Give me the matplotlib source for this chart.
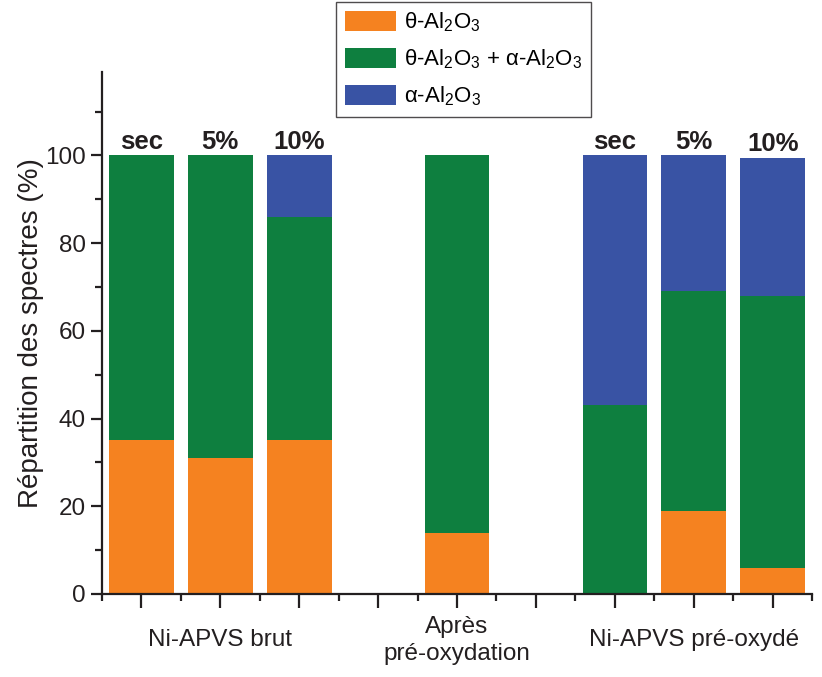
import numpy as np
import matplotlib.pyplot as plt
from matplotlib.ticker import MultipleLocator

plt.rcParams['font.family'] = ['Liberation Sans', 'DejaVu Sans']
plt.rcParams['mathtext.fontset'] = 'custom'
plt.rcParams['mathtext.rm'] = 'Liberation Sans'
plt.rcParams['mathtext.it'] = 'Liberation Sans'

# bar positions (gaps at 4 and 6)
positions = [1, 2, 3, 5, 7, 8, 9]
top_labels = ['sec', '5%', '10%', '', 'sec', '5%', '10%']
theta = [35, 31, 35, 14, 0, 19, 6]
theta_alpha = [65, 69, 51, 86, 43, 50, 62]
alpha = [0, 0, 14, 0, 57, 31, 31.5]
group_pos = [2, 5, 8]
group_labels = ['Ni-APVS brut', 'Après\npré-oxydation', 'Ni-APVS pré-oxydé']

c_theta = '#F58220'
c_mix = '#0E7F3F'
c_alpha = '#3953A4'
dark = '#231f20'

fig = plt.figure(figsize=(8.22, 6.77), dpi=100)
ax = fig.add_axes([0.124, 0.1226, 0.864, 0.771])

theta = np.array(theta)
theta_alpha = np.array(theta_alpha)
alpha = np.array(alpha)
w = 0.82
ax.bar(positions, theta, w, color=c_theta, label=r'θ-Al$_2$O$_3$')
ax.bar(positions, theta_alpha, w, bottom=theta, color=c_mix,
       label=r'θ-Al$_2$O$_3$ + α-Al$_2$O$_3$')
ax.bar(positions, alpha, w, bottom=theta + theta_alpha, color=c_alpha,
       label=r'α-Al$_2$O$_3$')

tops = theta + theta_alpha + alpha
for x, t, lab in zip(positions, tops, top_labels):
    if lab:
        ax.text(x, t + 0.3, lab, ha='center', va='bottom', fontsize=18.5,
                fontweight='bold', color=dark)

ax.set_xlim(0.5, 9.5)
ax.set_ylim(0, 119)
ax.xaxis.set_major_locator(MultipleLocator(1))
ax.xaxis.set_minor_locator(MultipleLocator(0.5))
ax.yaxis.set_minor_locator(MultipleLocator(10))
ax.set_yticks([0, 20, 40, 60, 80, 100])
ax.set_xticklabels([])
for s in ['top', 'right']:
    ax.spines[s].set_visible(False)
for s in ['left', 'bottom']:
    ax.spines[s].set_linewidth(1.6)
    ax.spines[s].set_color(dark)
ax.tick_params(which='major', length=8, width=1.6, color=dark,
               labelsize=17.5, labelcolor=dark)
ax.tick_params(which='minor', length=5, width=1.6, color=dark)
ax.tick_params(axis='x', which='major', length=10)

for x, lab in zip(group_pos, group_labels):
    ax.text(x, -10.5, lab, ha='center', va='center', fontsize=17.5,
            color=dark, linespacing=1.3)

ax.set_ylabel('Répartition des spectres (%)', fontsize=20, color=dark,
              labelpad=1)

leg = fig.legend(loc='upper left', bbox_to_anchor=(336 / 822, 1 - 2 / 677),
                 fontsize=16, frameon=True, fancybox=False, edgecolor=dark,
                 handlelength=2.3, handleheight=1.0, labelspacing=0.6,
                 borderpad=0.4, handletextpad=0.35, borderaxespad=0)
leg.get_frame().set_linewidth(1.0)

plt.savefig('out.png', dpi=100)
